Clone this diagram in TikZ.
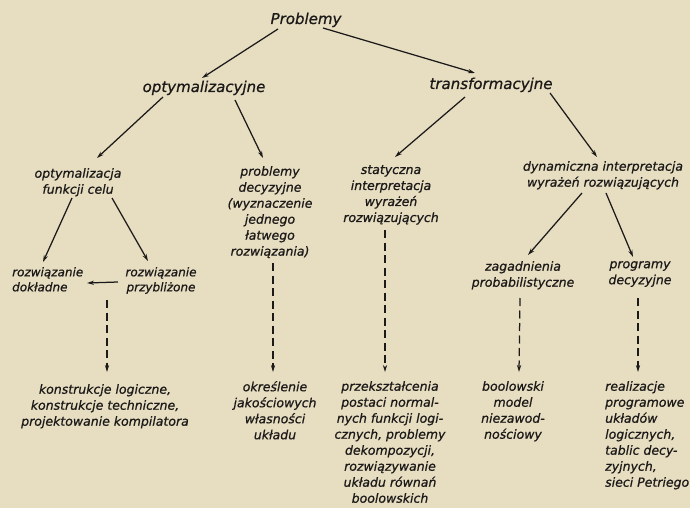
\documentclass[tikz,border=0pt]{standalone}
\usepackage{fontspec}
\newfontfamily\hand{DejaVu Sans}[FakeBold=0.8]
\usetikzlibrary{arrows.meta,calc}
\definecolor{paper}{RGB}{231,222,194}
\definecolor{ink}{RGB}{28,26,24}
\tikzset{
  big/.style={font=\hand\itshape\fontsize{15}{18}\selectfont, text=ink, inner sep=0pt, anchor=base},
  txt/.style={font=\hand\itshape\fontsize{12.5}{16}\selectfont, text=ink, inner sep=0pt, align=center, anchor=north},
  txtl/.style={txt, align=left, anchor=north west},
  small/.style={font=\hand\itshape\fontsize{12}{15}\selectfont},
  arr/.style={draw=ink, line width=1.25pt, -{Stealth[length=7pt,width=4.2pt]}},
  darr/.style={arr, dash pattern=on 8pt off 4.5pt},
}
\begin{document}
\begin{tikzpicture}[x=1pt,y=-1pt]
\fill[paper] (0,0) rectangle (690,508);
\useasboundingbox (0,0) rectangle (690,508);

\node[big] (prob) at (306,24) {Problemy};
\node[big] (opt) at (204,92) {optymalizacyjne};
\node[big] (trans) at (491,89) {transformacyjne};

\node[txt] (ofc) at (78,168) {optymalizacja\\funkcji celu};
\node[txt] (pd) at (270,166) {problemy\\decyzyjne\\(wyznaczenie\\jednego\\łatwego\\rozwiązania)};
\node[txt] (stat) at (391,165) {statyczna\\interpretacja\\wyrażeń\\rozwiązujących};
\node[txt] (dyn) at (603,161) {dynamiczna interpretacja\\wyrażeń rozwiązujących};

\node[txtl,small] (rd) at (12,267) {rozwiązanie\\dokładne};
\node[txt,small] (rp) at (161,267) {rozwiązanie\\przybliżone};
\node[txt] (zp) at (523,261) {zagadnienia\\probabilistyczne};
\node[txt] (pdz) at (640,261) {programy\\decyzyjne};

\node[txt] (kl) at (105,384) {konstrukcje logiczne,\\konstrukcje techniczne,\\projektowanie kompilatora};
\node[txt] (ok) at (275,381) {określenie\\jakościowych\\własności\\układu};
\node[txt] (prz) at (390,381) {przekształcenia\\postaci normal-\\nych funkcji logi-\\cznych, problemy\\dekompozycji,\\rozwiązywanie\\układu równań\\boolowskich};
\node[txt] (bm) at (513,381) {boolowski\\model\\niezawod-\\nościowy};
\node[txtl] (rpu) at (605,381) {realizacje\\programowe\\układów\\logicznych,\\tablic decy-\\zyjnych,\\sieci Petriego};

% solid arrows
\draw[arr] ([shift={(-28,5)}]prob.base) -- ([shift={(-2,-14)}]opt.base);
\draw[arr] ([shift={(17,4)}]prob.base) -- ([shift={(-16,-16)}]trans.base);
\draw[arr] ([shift={(-41,5)}]opt.base) -- ([shift={(19,-10)}]ofc.north);
\draw[arr] ([shift={(31,8)}]opt.base) -- ([shift={(-7,-8)}]pd.north);
\draw[arr] ([shift={(-26,8)}]trans.base) -- ([shift={(4,-8)}]stat.north);
\draw[arr] ([shift={(59,4)}]trans.base) -- ([shift={(-6,-4)}]dyn.north);
\draw[arr] ([shift={(-6,30)}]ofc.north) -- ([shift={(31,-5)}]rd.north west);
\draw[arr] ([shift={(34,30)}]ofc.north) -- ([shift={(-13,-6)}]rp.north);
\draw[arr] ([shift={(-43,15)}]rp.north) -- ([shift={(75,16)}]rd.north west);
\draw[arr] ([shift={(-21,32)}]dyn.north) -- ([shift={(5,-6)}]zp.north);
\draw[arr] ([shift={(3,32)}]dyn.north) -- ([shift={(-7,-4)}]pdz.north);

% dashed arrows
\draw[darr] ([shift={(-54,33)}]rp.north) -- ([shift={(2,-12)}]kl.north);
\draw[darr] ([shift={(3,97)}]pd.north) -- ([shift={(-2,-9)}]ok.north);
\draw[darr] ([shift={(-6,65)}]stat.north) -- ([shift={(-5,-9)}]prz.north);
\draw[darr] ([shift={(-3,37)}]zp.north) -- ([shift={(6,-9)}]bm.north);
\draw[darr] ([shift={(-2,37)}]pdz.north) -- ([shift={(33,-9)}]rpu.north west);
\end{tikzpicture}
\end{document}
